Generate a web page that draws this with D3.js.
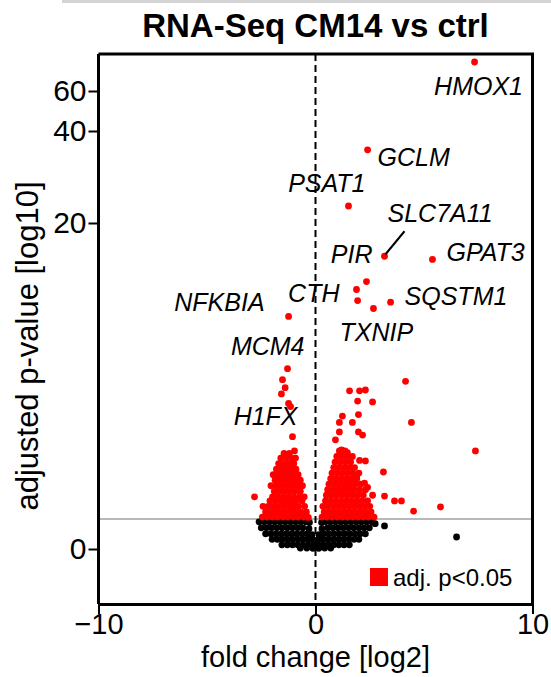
<!DOCTYPE html>
<html>
<head>
<meta charset="utf-8">
<script src="https://cdn.jsdelivr.net/npm/d3@7"></script>
<style>
  body { margin: 0; background: #fff; }
  svg { display: block; font-family: "Liberation Sans", Arial, sans-serif; }
</style>
</head>
<body>
<div id="volcano"></div>
<script>
// labelled genes: [name, log2 fold change, -log10 adj. p]
const genes = [
  ['HMOX1', 7.33, 74.5],
  ['GCLM', 2.4, 35.9],
  ['PSAT1', 1.52, 23.7],
  ['SLC7A11', 3.18, 17.9],
  ['GPAT3', 5.39, 17.7],
  ['PIR', 2.35, 16.3],
  ['CTH', 1.89, 15.8],
  ['SQSTM1', 3.46, 15.0],
  ['TXNIP', 2.67, 14.6],
  ['NFKBIA', -1.24, 14.1],
  ['MCM4', -1.29, 10.8],
  ['H1FX', -1.15, 8.4]
];

// significant, down
const sigDown = [
  [-2.45,1.42],[-2.22,1.42],[-1.98,1.42],[-1.75,1.42],[-1.5,1.42],[-1.27,1.42],[-1.02,1.42],[-0.8,1.42],[-0.55,1.42],[-0.33,1.4],
  [-2.3,1.75],[-2.08,1.75],[-1.86,1.75],[-1.62,1.75],[-1.4,1.75],[-1.15,1.75],[-0.92,1.75],[-0.68,1.75],[-0.42,1.75],
  [-2.42,2.1],[-2.18,2.1],[-1.95,2.1],[-1.72,2.1],[-1.48,2.1],[-1.25,2.1],[-1.02,2.1],[-0.78,2.1],[-0.5,2.1],
  [-2.1,2.45],[-1.85,2.45],[-1.6,2.45],[-1.38,2.45],[-1.14,2.45],[-0.9,2.45],[-0.62,2.45],
  [-2.81,2.7],[-1.98,2.7],[-1.75,2.7],[-1.5,2.7],[-1.26,2.7],[-1.02,2.7],[-0.75,2.7],[-0.52,2.7],
  [-1.9,3.05],[-1.66,3.05],[-1.42,3.05],[-1.18,3.05],[-0.94,3.05],[-0.7,3.05],
  [-2.05,3.4],[-1.78,3.4],[-1.55,3.4],[-1.3,3.4],[-1.06,3.4],[-0.82,3.4],[-0.6,3.4],
  [-1.86,3.75],[-1.62,3.75],[-1.4,3.75],[-1.16,3.75],[-0.92,3.75],[-0.7,3.75],
  [-1.95,4.1],[-1.72,4.1],[-1.5,4.1],[-1.26,4.1],[-1.02,4.1],[-0.8,4.1],
  [-1.8,4.45],[-1.58,4.45],[-1.35,4.45],[-1.12,4.45],[-0.9,4.45],
  [-1.7,4.8],[-1.46,4.8],[-1.22,4.8],[-1.0,4.8],
  [-1.6,5.15],[-1.36,5.15],[-1.12,5.15],[-0.92,5.15],
  [-1.45,5.45],[-1.2,5.45],
  [-0.97,5.6],[-1.06,6.5],[-1.24,8.6],[-1.57,9.2],[-1.52,10.1],[-1.4,9.6]
];

// significant, up
const sigUp = [
  [0.3,1.42],[0.52,1.42],[0.76,1.42],[1.0,1.42],[1.24,1.42],[1.48,1.42],[1.72,1.42],[1.96,1.42],[2.2,1.42],[2.44,1.42],[2.7,1.42],
  [0.4,1.75],[0.64,1.75],[0.88,1.75],[1.12,1.75],[1.36,1.75],[1.6,1.75],[1.84,1.75],[2.08,1.75],[2.32,1.75],[2.56,1.75],
  [0.34,2.1],[0.58,2.1],[0.82,2.1],[1.06,2.1],[1.3,2.1],[1.54,2.1],[1.78,2.1],[2.02,2.1],[2.26,2.1],[2.5,2.1],
  [0.46,2.45],[0.7,2.45],[0.94,2.45],[1.18,2.45],[1.42,2.45],[1.66,2.45],[1.9,2.45],[2.14,2.45],[2.4,2.45],
  [0.5,2.8],[0.74,2.8],[0.98,2.8],[1.22,2.8],[1.46,2.8],[1.7,2.8],[1.94,2.8],[2.2,2.8],
  [0.56,3.15],[0.8,3.15],[1.04,3.15],[1.28,3.15],[1.52,3.15],[1.76,3.15],[2.02,3.15],[2.3,3.15],
  [0.62,3.5],[0.86,3.5],[1.1,3.5],[1.34,3.5],[1.58,3.5],[1.82,3.5],[2.08,3.5],
  [0.7,3.85],[0.94,3.85],[1.18,3.85],[1.42,3.85],[1.66,3.85],[1.9,3.85],
  [0.76,4.2],[1.0,4.2],[1.24,4.2],[1.48,4.2],[1.72,4.2],[2.0,4.2],
  [0.84,4.55],[1.08,4.55],[1.32,4.55],[1.56,4.55],[1.8,4.55],
  [0.9,4.9],[1.14,4.9],[1.38,4.9],[1.62,4.9],[2.03,5.0],[2.3,4.97],
  [0.98,5.25],[1.22,5.25],[1.46,5.25],[1.7,5.25],
  [1.1,5.6],[1.36,5.6],
  [1.57,9.4],[2.03,9.4],[2.3,9.45],[1.94,8.75],[2.63,8.7],[1.24,7.8],[1.98,7.9],
  [1.1,7.4],[1.7,7.4],[1.1,6.8],[1.98,6.8],[2.17,6.6],[0.92,6.3],[1.2,5.66],[1.47,5.5],
  [3.13,4.27],[1.89,3.95],[2.26,3.57],[2.4,3.3],[2.63,2.8],[3.18,2.75],[3.64,2.44],
  [3.96,2.44],[4.52,1.8],[5.76,2.06],[4.42,7.4],[4.15,10.0],[7.37,5.6],[1.94,15.1]
];

// not significant
const nonSig = [
  [-2.6,1.18],[-2.36,1.18],[-2.12,1.18],[-1.88,1.18],[-1.64,1.18],[-1.4,1.18],[-1.16,1.18],[-0.92,1.18],[-0.68,1.18],[-0.44,1.18],[-0.28,1.15],
  [0.28,1.15],[0.44,1.18],[0.68,1.18],[0.92,1.18],[1.16,1.18],[1.4,1.18],[1.64,1.18],[1.88,1.18],[2.12,1.18],[2.36,1.18],[2.6,1.18],[2.75,1.1],
  [-2.5,0.92],[-2.26,0.92],[-2.02,0.92],[-1.78,0.92],[-1.54,0.92],[-1.3,0.92],[-1.06,0.92],[-0.82,0.92],[-0.58,0.92],[-0.3,0.88],
  [0.3,0.88],[0.56,0.92],[0.8,0.92],[1.04,0.92],[1.28,0.92],[1.52,0.92],[1.76,0.92],[2.0,0.92],[2.24,0.92],[2.48,0.92],[3.18,1.0],
  [-2.3,0.66],[-2.06,0.66],[-1.82,0.66],[-1.58,0.66],[-1.34,0.66],[-1.1,0.66],[-0.86,0.66],[-0.62,0.66],[-0.38,0.66],[-0.16,0.62],
  [0.16,0.62],[0.38,0.66],[0.62,0.66],[0.86,0.66],[1.1,0.66],[1.34,0.66],[1.58,0.66],[1.82,0.66],[2.06,0.66],[2.3,0.66],
  [-2.0,0.42],[-1.76,0.42],[-1.52,0.42],[-1.28,0.42],[-1.04,0.42],[-0.8,0.42],[-0.56,0.42],[-0.32,0.42],[-0.1,0.4],
  [0.12,0.4],[0.34,0.42],[0.58,0.42],[0.82,0.42],[1.06,0.42],[1.3,0.42],[1.54,0.42],[1.78,0.42],[2.0,0.42],
  [-1.55,0.18],[-1.3,0.18],[-1.06,0.18],[-0.82,0.18],[-0.58,0.18],[-0.34,0.18],[-0.1,0.18],
  [0.12,0.18],[0.36,0.18],[0.6,0.18],[0.84,0.18],[1.08,0.18],[1.32,0.18],[1.56,0.18],
  [-0.7,0.04],[-0.4,0.04],[-0.12,0.03],[0.15,0.03],[0.42,0.04],[0.7,0.04],
  [6.5,0.52]
];

const xTicks = [-10, 0, 10];
const yTicks = [0, 20, 40, 60];
const pCut = 1.301;

const width = 551;
const height = 677;
const plot = { left: 98.5, right: 532.5, top: 54, bottom: 604 };

const svg = d3.select('#volcano')
  .append('svg')
  .attr('width', width)
  .attr('height', height);

const x = d3.scaleLinear().domain([-10, 10]).range([plot.left, plot.right]);
const y = d3.scaleLinear()
  .domain([0, pCut, 20, 40, 60])
  .range([549, 519, 223, 131, 91]);

svg.append('rect')
  .attr('x', 62).attr('y', 0)
  .attr('width', width - 62).attr('height', 3)
  .attr('fill', '#d4d4d4');

svg.append('text')
  .attr('x', (plot.left + plot.right) / 2)
  .attr('y', 37)
  .attr('text-anchor', 'middle')
  .attr('font-size', 33)
  .attr('font-weight', 'bold')
  .text('RNA-Seq CM14 vs ctrl');

// threshold and zero lines
svg.append('line')
  .attr('x1', plot.left).attr('x2', plot.right)
  .attr('y1', y(pCut)).attr('y2', y(pCut))
  .attr('stroke', '#a0a0a0').attr('stroke-width', 1.5);

svg.append('line')
  .attr('x1', x(0)).attr('x2', x(0))
  .attr('y1', plot.top).attr('y2', plot.bottom)
  .attr('stroke', '#000').attr('stroke-width', 2)
  .attr('stroke-dasharray', '7,4');

const drawPoints = (data, color) => {
  svg.append('g')
    .selectAll('circle')
    .data(data)
    .enter()
    .append('circle')
    .attr('cx', (d) => x(d[0]))
    .attr('cy', (d) => y(d[1]))
    .attr('r', 3.4)
    .attr('fill', color);
};

drawPoints(nonSig, '#000');
drawPoints(sigDown, '#ff0000');
drawPoints(sigUp, '#ff0000');
drawPoints(genes.map((g) => [g[1], g[2]]), '#ff0000');

// gene labels, offsets in pixels from their point
const labelPos = {
  HMOX1: [4, 33, 'middle'],
  GCLM: [10, 16, 'start'],
  PSAT1: [17, -14, 'end'],
  SLC7A11: [3, -34, 'start'],
  GPAT3: [14, 2, 'start'],
  PIR: [6, -19, 'end'],
  CTH: [-17, 13, 'end'],
  SQSTM1: [14, 3, 'start'],
  TXNIP: [-34, 33, 'start'],
  NFKBIA: [-24, -5, 'end'],
  MCM4: [17, -14, 'end'],
  H1FX: [7, 18, 'end']
};

svg.append('g')
  .selectAll('text')
  .data(genes)
  .enter()
  .append('text')
  .attr('x', (d) => x(d[1]) + labelPos[d[0]][0])
  .attr('y', (d) => y(d[2]) + labelPos[d[0]][1])
  .attr('text-anchor', (d) => labelPos[d[0]][2])
  .attr('font-size', 25)
  .attr('font-style', 'italic')
  .text((d) => d[0]);

const slc = genes.find((g) => g[0] === 'SLC7A11');
svg.append('line')
  .attr('x1', x(slc[1]) + 1).attr('y1', y(slc[2]) - 2)
  .attr('x2', x(slc[1]) + 20).attr('y2', y(slc[2]) - 25)
  .attr('stroke', '#000').attr('stroke-width', 2);

// frame
svg.append('path')
  .attr('d', `M${plot.left},${plot.top}H${plot.right}V${plot.bottom}`)
  .attr('fill', 'none')
  .attr('stroke', '#000')
  .attr('stroke-width', 3);

const xAxis = svg.append('g')
  .attr('transform', `translate(0,${plot.bottom})`)
  .call(d3.axisBottom(x).tickValues(xTicks).tickSize(10).tickSizeOuter(0));

const yAxis = svg.append('g')
  .attr('transform', `translate(${plot.left},0)`)
  .call(d3.axisLeft(y).tickValues(yTicks).tickSize(10).tickSizeOuter(0));

yAxis.select('.domain').attr('d', `M0,${plot.top}V${plot.bottom}`);

[xAxis, yAxis].forEach((ax) => {
  ax.select('.domain').attr('stroke-width', 3);
  ax.selectAll('.tick line').attr('stroke-width', 2);
  ax.selectAll('.tick text')
    .attr('font-size', 30)
    .attr('font-family', '"Liberation Sans", Arial, sans-serif')
    .attr('fill', '#000');
});
xAxis.selectAll('.tick text').attr('dy', null).attr('y', 30).attr('font-size', 29);
yAxis.selectAll('.tick text').attr('x', -12);

svg.append('text')
  .attr('x', (plot.left + plot.right) / 2)
  .attr('y', 667)
  .attr('text-anchor', 'middle')
  .attr('font-size', 29)
  .text('fold change [log2]');

svg.append('text')
  .attr('transform', 'translate(38,346) rotate(-90)')
  .attr('text-anchor', 'middle')
  .attr('font-size', 31)
  .text('adjusted p-value [log10]');

// legend
svg.append('rect')
  .attr('x', 370).attr('y', 568)
  .attr('width', 18).attr('height', 18)
  .attr('fill', '#ff0000');

svg.append('text')
  .attr('x', 393).attr('y', 586)
  .attr('font-size', 24)
  .text('adj. p<0.05');
</script>
</body>
</html>
